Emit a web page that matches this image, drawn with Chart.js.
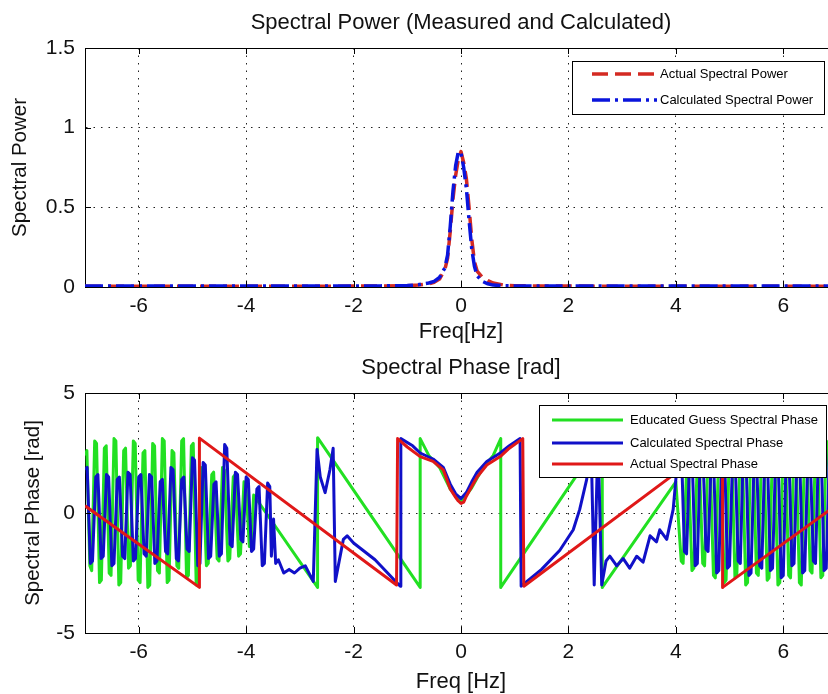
<!DOCTYPE html>
<html>
<head>
<meta charset="utf-8">
<script src="https://cdn.jsdelivr.net/npm/chart.js@4.4.1/dist/chart.umd.min.js"></script>
<style>
  html, body { margin: 0; padding: 0; background: #fff; overflow: hidden; }
  #wrap { position: relative; width: 828px; height: 694px; overflow: hidden; }
  canvas { position: absolute; left: 0; }
  #power-chart { top: 0; }
  #phase-chart { top: 346px; }
</style>
</head>
<body>
<div id="wrap">
  <canvas id="power-chart" width="840" height="346"></canvas>
  <canvas id="phase-chart" width="840" height="348"></canvas>
</div>
<script>
// tick labels
const freqTicks = [-6, -4, -2, 0, 2, 4, 6];
const powerTicks = [0, 0.5, 1, 1.5];
const phaseTicks = [-5, 0, 5];

// top plot: spectral power
const powerFreq = [-7, -5, -3, -1.5, -1, -0.8, -0.6, -0.5, -0.4, -0.3,
  -0.25, -0.2, -0.15, -0.1, -0.05, 0, 0.05, 0.1, 0.15, 0.2,
  0.25, 0.3, 0.4, 0.5, 0.6, 0.8, 1, 1.5, 3, 5, 7];
const actualPower = [0.005, 0.005, 0.005, 0.006, 0.008, 0.012, 0.02, 0.03, 0.05, 0.11,
  0.18, 0.35, 0.55, 0.7, 0.8, 0.85, 0.78, 0.68, 0.5, 0.3,
  0.16, 0.1, 0.06, 0.04, 0.025, 0.012, 0.008, 0.006, 0.005, 0.005, 0.005];
const calcPower = [0.006, 0.006, 0.006, 0.007, 0.009, 0.014, 0.025, 0.035, 0.06, 0.12,
  0.2, 0.38, 0.6, 0.76, 0.85, 0.84, 0.75, 0.62, 0.42, 0.24,
  0.13, 0.07, 0.035, 0.02, 0.012, 0.008, 0.007, 0.006, 0.006, 0.006, 0.006];

// bottom plot: spectral phase (rad)
const guessFreq = [
  -7.00, -6.965, -6.91, -6.875, -6.82, -6.785, -6.73, -6.695, -6.64, -6.605,
  -6.55, -6.515, -6.46, -6.425, -6.37, -6.335, -6.28, -6.245, -6.19, -6.155,
  -6.10, -6.065, -6.01, -5.975, -5.92, -5.885, -5.83, -5.795, -5.74, -5.705,
  -5.65, -5.615, -5.56, -5.525, -5.47, -5.435, -5.38, -5.345, -5.29, -5.255,
  -5.20, -5.165, -5.11, -5.075, -5.02, -4.985, -4.93, -4.895, -4.84, -4.805,
  -4.74, -4.705, -4.64, -4.605, -4.54, -4.505, -4.44, -4.405, -4.34, -4.305,
  -4.24, -4.205, -4.14, -4.105, -4.04, -4.005, -3.94, -3.905, -3.86, -2.67,
  -2.67, -0.76, -0.76, -0.6, -0.4, -0.2, 0, 0.2, 0.4, 0.6,
  0.74, 0.74, 2.63, 2.63, 4.0, 4.1, 4.135, 4.2, 4.235, 4.3,
  4.335, 4.4, 4.435, 4.5, 4.535, 4.6, 4.635, 4.7, 4.735, 4.8,
  4.835, 4.9, 4.935, 5.0, 5.035, 5.1, 5.135, 5.2, 5.235, 5.3,
  5.335, 5.4, 5.435, 5.5, 5.535, 5.6, 5.635, 5.7, 5.735, 5.8,
  5.835, 5.9, 5.935, 6.0, 6.035, 6.1, 6.135, 6.2, 6.235, 6.3,
  6.335, 6.4, 6.435, 6.5, 6.535, 6.6, 6.635, 6.7, 6.735, 6.8,
  6.835, 6.9, 6.935, 7.0];
const guessPhase = [
  2.4, 2.6, -2.2, -2.4, 3.0, 2.9, -2.9, -2.8, 2.7, 2.8,
  -2.5, -2.6, 3.1, 3.0, -3.0, -2.9, 2.6, 2.7, -2.3, -2.2,
  3.0, 2.9, -2.8, -2.9, 2.5, 2.6, -3.1, -3.0, 2.9, 2.8,
  -2.4, -2.5, 3.1, 3.0, -2.9, -2.8, 2.6, 2.5, -2.2, -2.3,
  3.0, 3.1, -2.7, -2.6, 2.8, 2.9, -3.0, -2.9, 1.9, 1.8,
  -2.2, -2.1, 1.6, 1.7, -1.9, -2.0, 1.9, 1.8, -2.0, -1.9,
  1.5, 1.6, -1.8, -1.7, 1.3, 1.2, -1.4, -1.3, 0.75, -3.1,
  3.14, -3.1, 3.1, 2.4, 1.9, 1.0, 0.45, 1.05, 1.85, 2.4,
  3.1, -3.1, 3.14, -3.1, 1.3, -2.0, -2.1, 1.8, 1.9, -2.4,
  -2.3, 2.2, 2.3, -2.1, -2.2, 2.5, 2.4, -2.6, -2.7, 2.8,
  2.9, -2.9, -2.8, 3.0, 3.1, -2.7, -2.6, 2.9, 2.8, -3.0,
  -2.9, 3.1, 3.0, -2.5, -2.6, 3.0, 2.9, -2.8, -2.7, 2.7,
  2.8, -3.0, -2.9, 3.1, 3.0, -2.6, -2.7, 2.9, 2.8, -2.9,
  -3.0, 3.0, 2.9, -2.4, -2.5, 2.8, 2.9, -2.7, -2.6, 3.0,
  2.9, -2.5, -2.6, 2.6];

const calcFreq = [
  -7.0, -6.96, -6.9, -6.86, -6.8, -6.76, -6.7, -6.66, -6.6, -6.56,
  -6.5, -6.46, -6.4, -6.36, -6.3, -6.26, -6.2, -6.16, -6.1, -6.06,
  -6.0, -5.96, -5.9, -5.86, -5.8, -5.76, -5.7, -5.66, -5.6, -5.56,
  -5.5, -5.46, -5.4, -5.36, -5.3, -5.26, -5.2, -5.16, -5.1, -5.06,
  -5.0, -4.96, -4.9, -4.86, -4.8, -4.76, -4.7, -4.66, -4.6, -4.56,
  -4.5, -4.46, -4.4, -4.36, -4.3, -4.26, -4.2, -4.16, -4.1, -4.06,
  -4.0, -3.96, -3.9, -3.86, -3.8, -3.76, -3.7, -3.66, -3.6, -3.56,
  -3.53, -3.49, -3.45, -3.4, -3.3, -3.2, -3.1, -3.0, -2.9, -2.75,
  -2.68, -2.62, -2.53, -2.44, -2.38, -2.34, -2.19, -2.12, -2.0, -1.6,
  -1.26, -1.13, -1.12, -0.9, -0.76, -0.52, -0.33, -0.2, -0.1, 0,
  0.1, 0.2, 0.3, 0.48, 0.73, 0.9, 1.1, 1.12, 1.5, 1.84,
  2.09, 2.21, 2.34, 2.42, 2.48, 2.55, 2.62, 2.7, 2.77, 2.9,
  3.02, 3.14, 3.27, 3.39, 3.52, 3.64, 3.7, 3.83, 3.95, 4.0,
  4.06, 4.1, 4.16, 4.2, 4.26, 4.3, 4.36, 4.4, 4.46, 4.5,
  4.56, 4.6, 4.66, 4.7, 4.76, 4.8, 4.86, 4.9, 4.96, 5.0,
  5.06, 5.1, 5.16, 5.2, 5.26, 5.3, 5.36, 5.4, 5.46, 5.5,
  5.56, 5.6, 5.66, 5.7, 5.76, 5.8, 5.86, 5.9, 5.96, 6.0,
  6.06, 6.1, 6.16, 6.2, 6.26, 6.3, 6.36, 6.4, 6.46, 6.5,
  6.56, 6.6, 6.66, 6.7, 6.76, 6.8, 6.86, 6.9, 6.96, 7.0];
const calcPhase = [
  1.8, 1.9, -2.1, -2.0, 1.5, 1.6, -1.9, -1.8, 1.6, 1.5,
  -2.2, -2.1, 1.4, 1.5, -1.8, -1.9, 1.7, 1.6, -2.0, -1.9,
  1.5, 1.6, -1.7, -1.8, 1.6, 1.5, -2.1, -2.0, 1.3, 1.4,
  -1.6, -1.7, 1.9, 1.8, -1.9, -2.0, 1.4, 1.5, -1.5, -1.6,
  2.3, 2.2, -2.2, -2.1, 2.1, 2.0, -1.9, -1.8, 1.2, 1.3,
  -1.8, -1.7, 2.85, 2.7, -1.3, -1.4, 1.7, 1.6, -1.1, -1.2,
  1.5, 1.4, -1.6, -1.5, 1.0, 1.1, -2.2, -2.1, 1.25, 1.1,
  -1.8, -0.25, -2.1, -1.95, -2.5, -2.35, -2.5, -2.3, -2.2, -2.85,
  2.65, 1.5, 0.85, 1.8, 2.7, -2.85, -1.1, -0.95, -1.25, -1.95,
  -2.75, -3.05, 3.1, 2.8, 2.5, 2.25, 1.9, 1.2, 0.8, 0.6,
  0.85, 1.3, 1.7, 2.15, 2.5, 2.8, 3.1, -3.05, -2.35, -1.55,
  -0.7, 0.15, 1.4, 3.1, -3.0, 3.1, -3.0, -2.0, -1.8, -2.2,
  -1.9, -2.3, -1.8, -2.05, -0.95, -1.2, -0.7, -1.1, 0.15, 1.4,
  3.0, 2.9, -1.6, -1.7, 2.6, 2.7, -2.2, -2.1, 2.9, 2.8,
  -1.5, -1.6, 2.4, 2.5, -2.5, -2.4, 3.0, 3.1, -2.3, -2.2,
  2.7, 2.6, -2.0, -2.1, 3.1, 3.0, -2.6, -2.5, 2.5, 2.6,
  -2.2, -2.3, 2.9, 2.8, -2.4, -2.3, 2.6, 2.7, -2.7, -2.6,
  3.0, 2.9, -2.2, -2.1, 2.8, 2.9, -2.5, -2.4, 2.6, 2.5,
  -2.0, -2.1, 3.0, 3.1, -2.4, -2.3, 2.7, 2.6, -2.3, -2.2];

const actualFreq = [-7, -4.87, -4.87, -1.2, -1.18, -1.0, -0.76, -0.52, -0.33, -0.2,
  -0.1, -0.05, 0, 0.05, 0.1, 0.2, 0.3, 0.48, 0.73, 0.9,
  1.15, 1.17, 4.87, 4.87, 7];
const actualPhase = [0.3, -3.1, 3.12, -3.0, 3.1, 2.75, 2.35, 2.15, 1.8, 1.0,
  0.65, 0.5, 0.4, 0.45, 0.7, 1.1, 1.5, 2.0, 2.35, 2.7,
  3.1, -3.05, 3.12, -3.1, 0.35];

Chart.defaults.font.family = "'Liberation Sans', Arial, sans-serif";
Chart.defaults.color = "#111";

const pts = (xs, ys) => xs.map((x, i) => ({ x, y: ys[i] }));

// MATLAB-like box, inward ticks and boxed legend
const matlabFrame = {
  id: "matlabFrame",
  afterDatasetsDraw(chart, args, opts) {
    const { ctx, chartArea: a, scales } = chart;
    ctx.save();
    ctx.strokeStyle = "#000";
    ctx.lineWidth = 1;
    ctx.setLineDash([]);
    ctx.beginPath();
    ctx.moveTo(a.left, a.top + 0.5);
    ctx.lineTo(a.right, a.top + 0.5);
    ctx.moveTo(a.right - 0.5, a.top);
    ctx.lineTo(a.right - 0.5, a.bottom);
    scales.x.ticks.forEach((t) => {
      const px = Math.round(scales.x.getPixelForValue(t.value)) + 0.5;
      ctx.moveTo(px, a.bottom);
      ctx.lineTo(px, a.bottom - 6);
      ctx.moveTo(px, a.top);
      ctx.lineTo(px, a.top + 6);
    });
    scales.y.ticks.forEach((t) => {
      const py = Math.round(scales.y.getPixelForValue(t.value)) + 0.5;
      ctx.moveTo(a.left, py);
      ctx.lineTo(a.left + 6, py);
      ctx.moveTo(a.right, py);
      ctx.lineTo(a.right - 6, py);
    });
    ctx.stroke();

    // legend
    const lg = opts.legend;
    const bx = a.left + lg.dx, by = a.top + lg.dy;
    ctx.fillStyle = "#fff";
    ctx.fillRect(bx, by, lg.w, lg.h);
    ctx.strokeRect(bx + 0.5, by + 0.5, lg.w - 1, lg.h - 1);
    ctx.font = lg.font;
    ctx.textBaseline = "middle";
    ctx.textAlign = "left";
    lg.items.forEach((idx, row) => {
      const ds = chart.data.datasets[idx];
      const y = by + lg.rows[row];
      ctx.strokeStyle = ds.borderColor;
      ctx.lineWidth = ds.borderWidth;
      ctx.setLineDash(ds.borderDash || []);
      ctx.beginPath();
      ctx.moveTo(bx + lg.x0, y);
      ctx.lineTo(bx + lg.x1, y);
      ctx.stroke();
      ctx.setLineDash([]);
      ctx.fillStyle = "#000";
      ctx.fillText(ds.label, bx + lg.tx, y);
    });
    ctx.restore();
  },
};

function axisX(titleText, height, titlePad) {
  return {
    type: "linear",
    min: -7,
    max: 7,
    afterBuildTicks: (s) => { s.ticks = freqTicks.map((v) => ({ value: v })); },
    afterFit: (s) => { s.height = height; },
    grid: { color: "#222", lineWidth: 1, drawTicks: false },
    border: { display: true, color: "#000", width: 1, dash: [1.5, 6] },
    ticks: { font: { size: 21 }, padding: 7, maxRotation: 0 },
    title: {
      display: true,
      text: titleText,
      font: { size: 22, lineHeight: 1 },
      padding: { top: 0, bottom: titlePad },
    },
  };
}

// top axis only carries the plot title, centred over the axes box
function axisTitle(titleText, height, titlePad) {
  return {
    type: "linear",
    position: "top",
    axis: "x",
    min: -7,
    max: 7,
    afterFit: (s) => { s.height = height; },
    grid: { display: false },
    border: { display: false },
    ticks: { display: false },
    title: {
      display: true,
      text: titleText,
      font: { size: 22, lineHeight: 1 },
      padding: { top: titlePad, bottom: 0 },
    },
  };
}

function axisY(titleText, min, max, tickVals, titlePad) {
  return {
    type: "linear",
    min,
    max,
    afterBuildTicks: (s) => { s.ticks = tickVals.map((v) => ({ value: v })); },
    afterFit: (s) => { s.width = 85; },
    grid: { color: "#222", lineWidth: 1, drawTicks: false },
    border: { display: true, color: "#000", width: 1, dash: [1.5, 6] },
    ticks: { font: { size: 21 }, padding: 10, callback: (v) => String(v) },
    title: {
      display: true,
      text: titleText,
      font: { size: 20.5 },
      padding: { top: titlePad, bottom: 0 },
    },
  };
}

new Chart(document.getElementById("power-chart"), {
  type: "line",
  data: {
    datasets: [
      {
        label: "Actual Spectral Power",
        data: pts(powerFreq, actualPower),
        borderColor: "#d42a22",
        borderWidth: 3.5,
        borderDash: [16, 7],
        order: 1,
      },
      {
        label: "Calculated Spectral Power",
        data: pts(powerFreq, calcPower),
        borderColor: "#0a14dc",
        borderWidth: 3.5,
        borderDash: [18, 5, 3, 5],
        order: 0,
      },
    ],
  },
  options: {
    responsive: false,
    animation: false,
    events: [],
    elements: { point: { radius: 0 }, line: { tension: 0, borderJoinStyle: "round" } },
    layout: { padding: { left: 0, right: 3, top: 0, bottom: 0 } },
    scales: {
      x: axisX("Freq[Hz]", 59, 3),
      t: axisTitle("Spectral Power (Measured and Calculated)", 48, 12),
      y: axisY("Spectral Power", 0, 1.5, powerTicks, 7.7),
    },
    plugins: {
      legend: { display: false },
      tooltip: { enabled: false },
      title: { display: false },
      matlabFrame: {
        legend: {
          dx: 487, dy: 13, w: 253, h: 54,
          rows: [13, 39], x0: 20, x1: 85, tx: 88,
          font: "13px 'Liberation Sans', Arial, sans-serif",
          items: [0, 1],
        },
      },
    },
  },
  plugins: [matlabFrame],
});

new Chart(document.getElementById("phase-chart"), {
  type: "line",
  data: {
    datasets: [
      {
        label: "Educated Guess Spectral Phase",
        data: pts(guessFreq, guessPhase),
        borderColor: "#22e022",
        borderWidth: 3,
        order: 2,
      },
      {
        label: "Calculated Spectral Phase",
        data: pts(calcFreq, calcPhase),
        borderColor: "#1010c8",
        borderWidth: 3,
        order: 1,
      },
      {
        label: "Actual Spectral Phase",
        data: pts(actualFreq, actualPhase),
        borderColor: "#e01818",
        borderWidth: 3,
        order: 0,
      },
    ],
  },
  options: {
    responsive: false,
    animation: false,
    events: [],
    elements: { point: { radius: 0 }, line: { tension: 0, borderJoinStyle: "round" } },
    layout: { padding: { left: 0, right: 3, top: 0, bottom: 0 } },
    scales: {
      x: axisX("Freq [Hz]", 61, 1),
      t: axisTitle("Spectral Phase [rad]", 47, 11),
      y: axisY("Spectral Phase [rad]", -5, 5, phaseTicks, 20.7),
    },
    plugins: {
      legend: { display: false },
      tooltip: { enabled: false },
      title: { display: false },
      matlabFrame: {
        legend: {
          dx: 454, dy: 12, w: 288, h: 73,
          rows: [15, 38, 59], x0: 13, x1: 84, tx: 91,
          font: "13px 'Liberation Sans', Arial, sans-serif",
          items: [0, 1, 2],
        },
      },
    },
  },
  plugins: [matlabFrame],
});
</script>
</body>
</html>
